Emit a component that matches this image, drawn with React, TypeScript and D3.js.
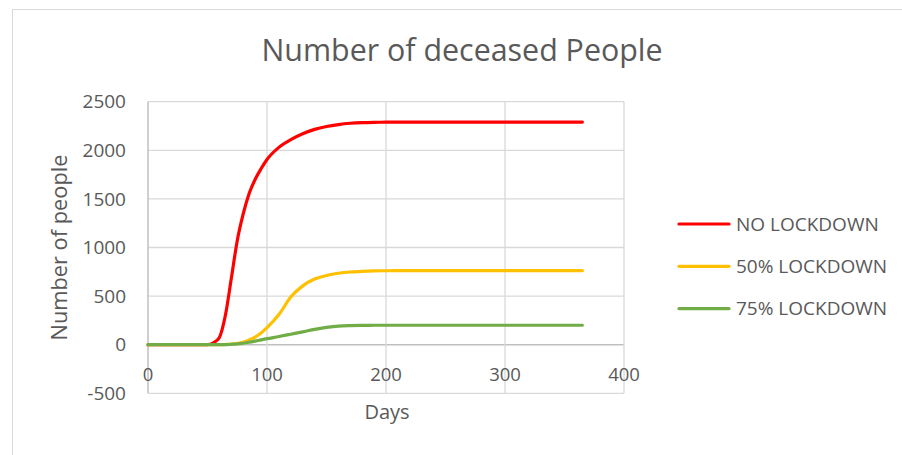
import React from "react";
import * as d3 from "d3";

const days = [0, 50, 55, 60, 65, 70, 75, 80, 85, 90, 95, 100, 110, 120, 130, 140, 150, 160, 170, 180, 190, 200, 220, 250, 300, 365];
const noLockdown = [0, 0, 20, 75, 300, 680, 1070, 1345, 1555, 1700, 1810, 1905, 2030, 2110, 2170, 2215, 2245, 2265, 2278, 2285, 2288, 2289, 2290, 2290, 2290, 2290];
const lockdown50 = [0, 0, 0, 0, 2, 5, 12, 25, 48, 78, 120, 175, 310, 490, 605, 675, 712, 735, 748, 755, 759, 761, 762, 762, 762, 762];
const lockdown75 = [0, 0, 0, 0, 0, 4, 8, 15, 25, 37, 50, 62, 84, 108, 132, 158, 178, 192, 197, 199, 200, 200, 200, 200, 200, 200];

const seriesNames = ["NO LOCKDOWN", "50% LOCKDOWN", "75% LOCKDOWN"];
const seriesColors = ["#FF0000", "#FFC000", "#70AD47"];
const seriesValues = [noLockdown, lockdown50, lockdown75];

const xTicks = [0, 100, 200, 300, 400];
const yTicks = [-500, 0, 500, 1000, 1500, 2000, 2500];

const FONT = "'Open Sans', sans-serif";
const TEXT = "#595959";

export default function App() {
  const W = 902, H = 455;
  const x = d3.scaleLinear().domain([0, 400]).range([148, 624]);
  const y = d3.scaleLinear().domain([-500, 2500]).range([393.3, 101.7]);
  const line = d3
    .line<[number, number]>()
    .x((d) => x(d[0]))
    .y((d) => y(d[1]))
    .curve(d3.curveMonotoneX);

  return (
    <svg width={W} height={H} style={{ position: "absolute", left: 0, top: 0, background: "#fff" }}>
      <rect x={0} y={0} width={W} height={H} fill="#fff" />
      <rect x={12.5} y={9.5} width={W + 20} height={H + 20} fill="none" stroke="#d9d9d9" strokeWidth={1} />
      <text x={462} y={61} textAnchor="middle" fontFamily={FONT} fontSize={30.4} fill={TEXT}>
        Number of deceased People
      </text>
      {yTicks.map((t) => (
        <line key={"gy" + t} x1={x(0)} x2={x(400)} y1={y(t)} y2={y(t)} stroke={t === 0 ? "#bfbfbf" : "#d9d9d9"} strokeWidth={t === 0 ? 1.5 : 1.3} />
      ))}
      {xTicks.map((t) => (
        <line key={"gx" + t} x1={x(t)} x2={x(t)} y1={y(-500)} y2={y(2500)} stroke={t === 0 ? "#bfbfbf" : "#d9d9d9"} strokeWidth={t === 0 ? 1.5 : 1.3} />
      ))}
      {yTicks.map((t) => (
        <text key={"ty" + t} x={126} y={y(t)} dy="0.35em" textAnchor="end" fontFamily={FONT} fontSize={19} fill={TEXT}>
          {t}
        </text>
      ))}
      {xTicks.map((t) => (
        <text key={"tx" + t} x={x(t)} y={381} textAnchor="middle" fontFamily={FONT} fontSize={18.5} fill={TEXT}>
          {t}
        </text>
      ))}
      <text x={387} y={419} textAnchor="middle" fontFamily={FONT} fontSize={20} fill={TEXT}>
        Days
      </text>
      <text transform="translate(67,247.5) rotate(-90)" textAnchor="middle" fontFamily={FONT} fontSize={21.8} fill={TEXT}>
        Number of people
      </text>
      {seriesValues.map((vals, i) => (
        <path
          key={"s" + i}
          d={line(days.map((d, j) => [d, vals[j]] as [number, number])) || ""}
          fill="none"
          stroke={seriesColors[i]}
          strokeWidth={3.2}
          strokeLinecap="round"
          strokeLinejoin="round"
        />
      ))}
      {seriesNames.map((n, i) => {
        const ly = 224 + i * 42.3;
        return (
          <g key={"l" + i}>
            <line x1={679} x2={729} y1={ly} y2={ly} stroke={seriesColors[i]} strokeWidth={3.2} strokeLinecap="round" />
            <text x={736} y={ly} dy="0.35em" fontFamily={FONT} fontSize={19} fill={TEXT}>
              {n}
            </text>
          </g>
        );
      })}
    </svg>
  );
}
